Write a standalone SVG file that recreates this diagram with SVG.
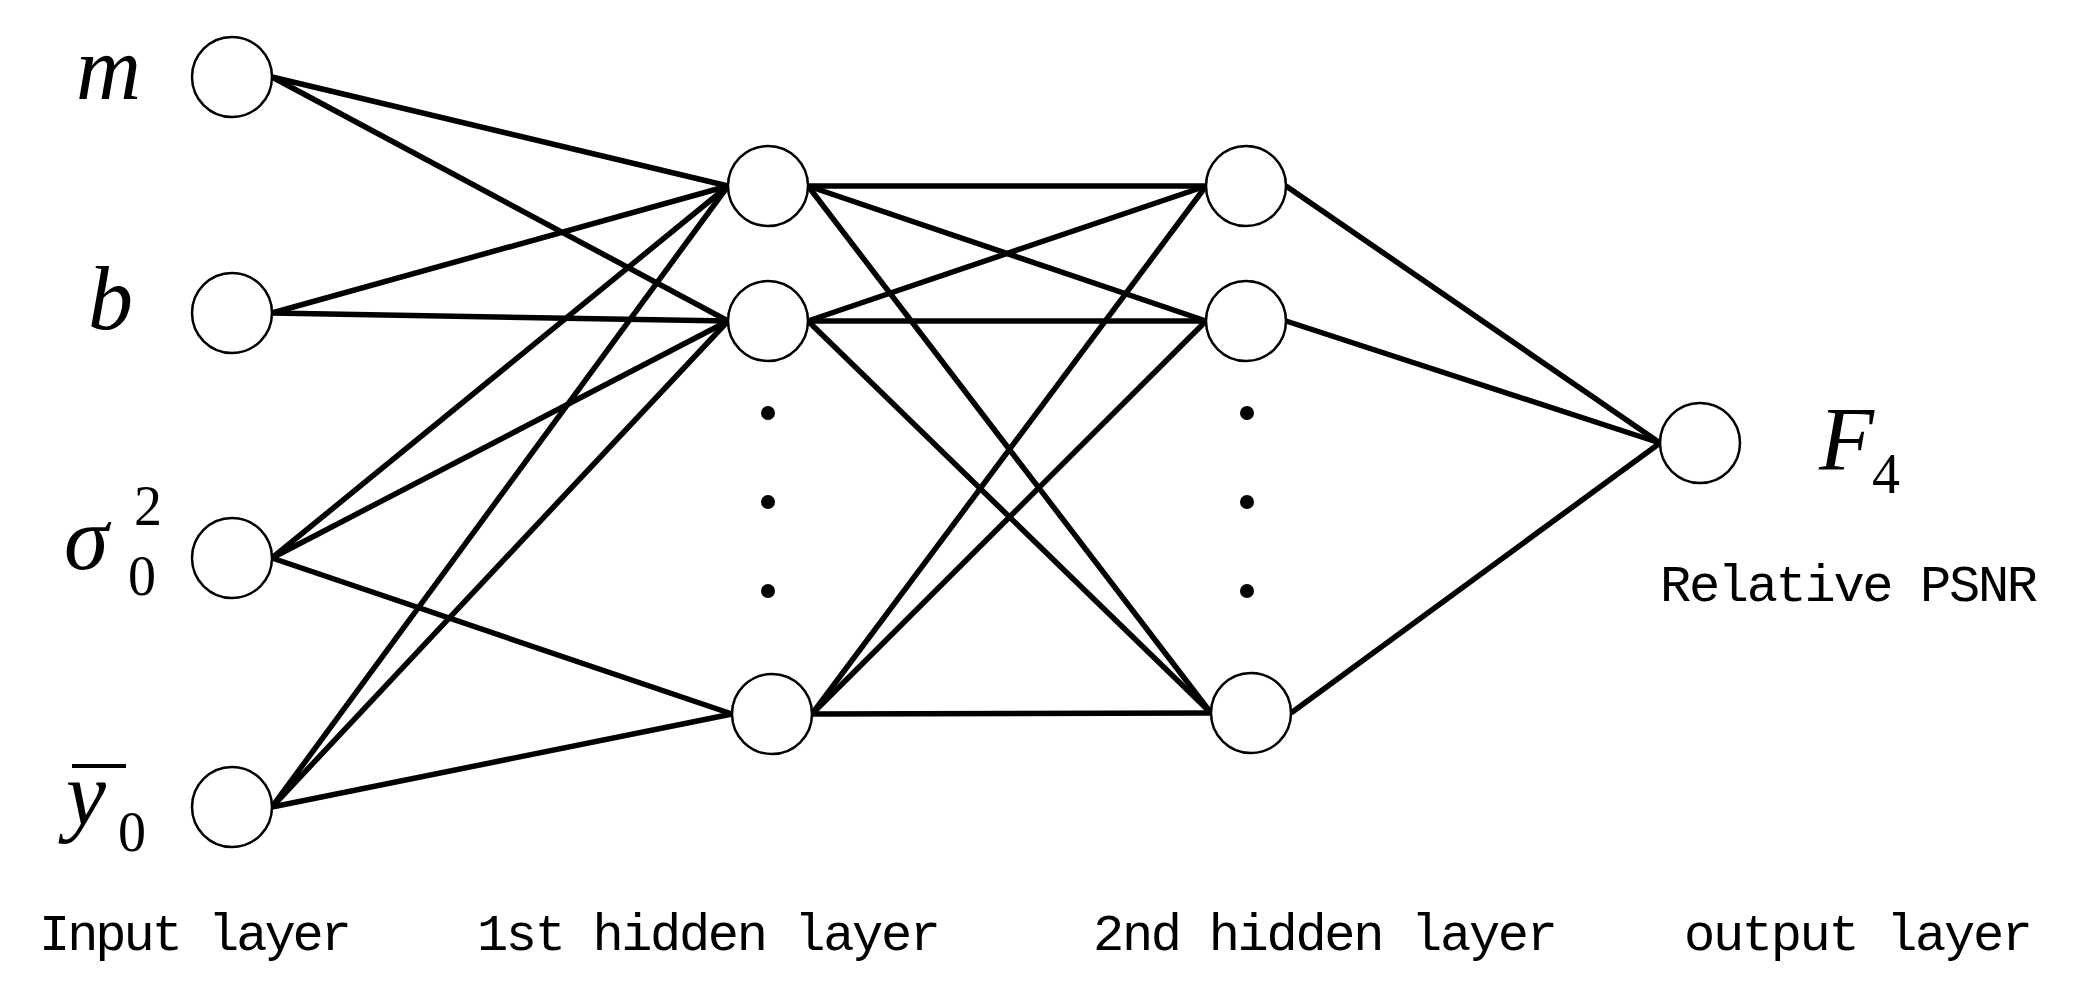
<svg xmlns="http://www.w3.org/2000/svg" width="2083" height="1003" viewBox="0 0 2083 1003">
<style>
.n{fill:#fff;stroke:#000;stroke-width:2.5}
.c line{stroke:#000;stroke-width:5.5}
.m{font-family:"Liberation Serif",serif;font-style:italic;font-size:90px}
.s{font-family:"Liberation Serif",serif;font-size:56px}
.t{font-family:"Liberation Mono",monospace;font-size:52px}
</style>
<rect width="2083" height="1003" fill="#fff"/>
<g class="c">
<line x1="272" y1="77" x2="728" y2="186"/><line x1="272" y1="77" x2="728" y2="321"/>
<line x1="272" y1="313" x2="728" y2="186"/><line x1="272" y1="313" x2="728" y2="321"/>
<line x1="272" y1="558" x2="728" y2="186"/><line x1="272" y1="558" x2="728" y2="321"/><line x1="272" y1="558" x2="732" y2="714"/>
<line x1="272" y1="807" x2="728" y2="186"/><line x1="272" y1="807" x2="728" y2="321"/><line x1="272" y1="807" x2="732" y2="714"/>
<line x1="808" y1="186" x2="1206" y2="186"/><line x1="808" y1="186" x2="1206" y2="321"/><line x1="808" y1="186" x2="1211" y2="713"/>
<line x1="808" y1="321" x2="1206" y2="186"/><line x1="808" y1="321" x2="1206" y2="321"/><line x1="808" y1="321" x2="1211" y2="713"/>
<line x1="812" y1="714" x2="1206" y2="186"/><line x1="812" y1="714" x2="1206" y2="321"/><line x1="812" y1="714" x2="1211" y2="713"/>
<line x1="1286" y1="186" x2="1660" y2="443"/><line x1="1286" y1="321" x2="1660" y2="443"/><line x1="1291" y1="713" x2="1660" y2="443"/>
</g>
<g id="in1"><circle class="n" cx="232" cy="77" r="40"/><text class="m" x="76" y="99">m</text></g>
<g id="in2"><circle class="n" cx="232" cy="313" r="40"/><text class="m" x="88" y="329">b</text></g>
<g id="in3"><circle class="n" cx="232" cy="558" r="40"/><text class="m" x="64" y="569">σ</text><text class="s" x="134" y="525">2</text><text class="s" x="128" y="595">0</text></g>
<g id="in4"><circle class="n" cx="232" cy="807" r="40"/><text class="m" x="66" y="825">y</text><line x1="72" y1="766" x2="126" y2="766" stroke="#000" stroke-width="4"/><text class="s" x="118" y="851">0</text></g>
<g id="h1a"><circle class="n" cx="768" cy="186" r="40"/></g>
<g id="h1b"><circle class="n" cx="768" cy="321" r="40"/></g>
<g id="h1c"><circle class="n" cx="772" cy="714" r="40"/></g>
<g id="h2a"><circle class="n" cx="1246" cy="186" r="40"/></g>
<g id="h2b"><circle class="n" cx="1246" cy="321" r="40"/></g>
<g id="h2c"><circle class="n" cx="1251" cy="713" r="40"/></g>
<g id="dots"><circle cx="768" cy="413" r="7"/><circle cx="768" cy="502" r="7"/><circle cx="768" cy="591" r="7"/><circle cx="1247" cy="413" r="7"/><circle cx="1247" cy="502" r="7"/><circle cx="1247" cy="591" r="7"/></g>
<g id="out"><circle class="n" cx="1700" cy="443" r="40"/><text class="m" x="1819" y="470">F</text><text class="s" x="1872" y="493">4</text><text class="t" x="1660" y="601" textLength="378">Relative PSNR</text></g>
<g id="labels">
<text class="t" x="39" y="950" textLength="313">Input layer</text>
<text class="t" x="477" y="950" textLength="464">1st hidden layer</text>
<text class="t" x="1093" y="950" textLength="465">2nd hidden layer</text>
<text class="t" x="1684" y="950" textLength="349">output layer</text>
</g>
</svg>
